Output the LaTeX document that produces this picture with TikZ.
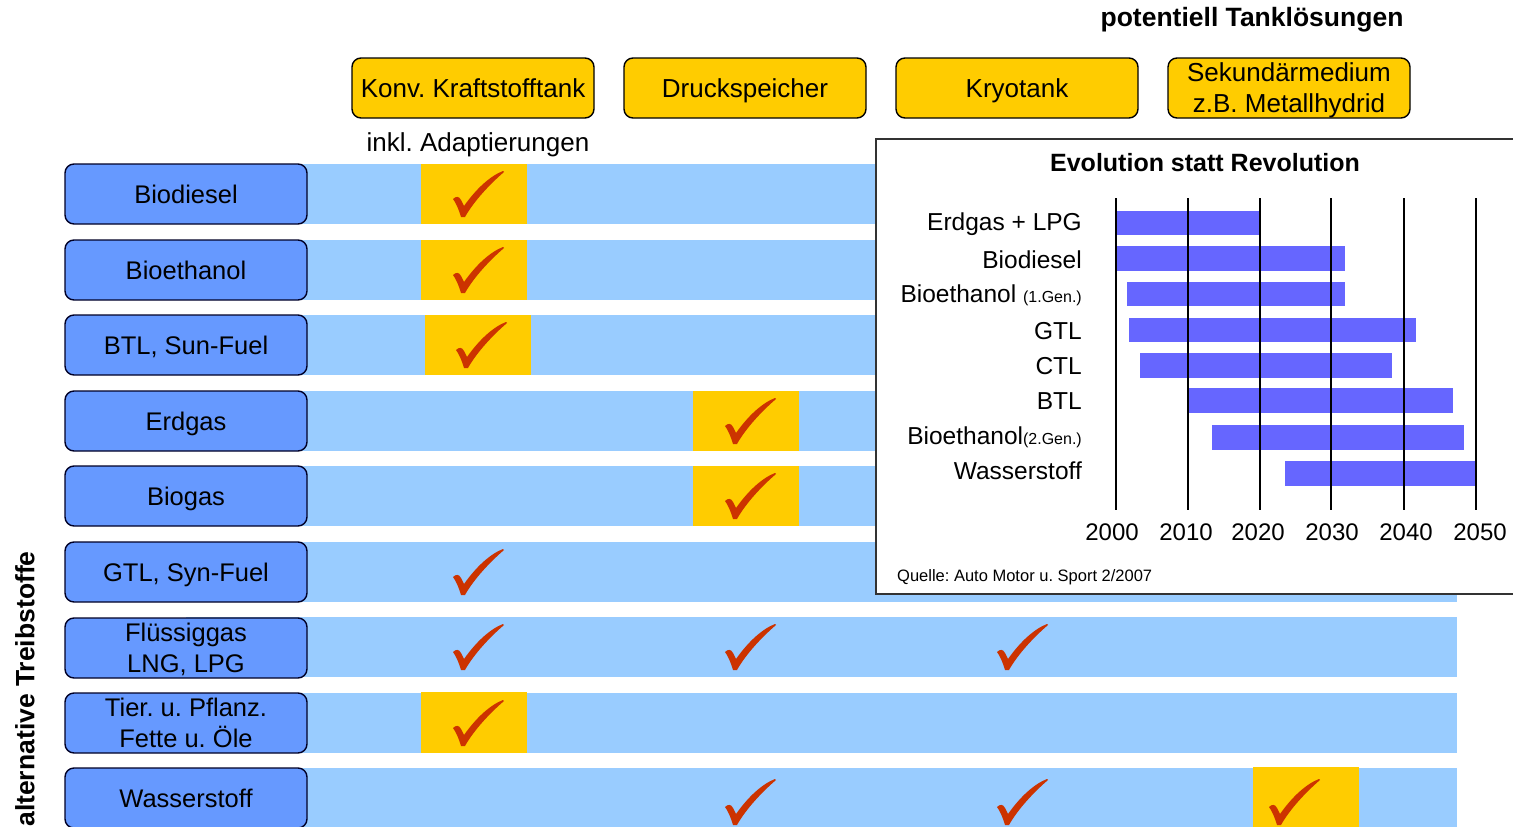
\documentclass[tikz,border=0pt]{standalone}
\usepackage{fontspec}
\setmainfont{Liberation Sans}
\frenchspacing
\definecolor{bandblue}{RGB}{153,204,255}
\definecolor{boxblue}{RGB}{102,153,255}
\definecolor{hiyellow}{RGB}{255,204,0}
\definecolor{tickred}{RGB}{204,51,0}
\definecolor{barblue}{RGB}{102,102,255}
\begin{document}
\begin{tikzpicture}[x=1pt,y=-1pt,
  rowbox/.style={draw=black!85!blue, line width=1.4pt, fill=boxblue, rounded corners=9pt,
    minimum width=242pt, minimum height=60pt, inner sep=0pt, align=center,
    font=\fontsize{25.5}{30.5}\selectfont},
  headbox/.style={draw=black, line width=1.4pt, fill=hiyellow, rounded corners=9pt,
    minimum width=242pt, minimum height=60pt, inner sep=0pt, align=center,
    font=\fontsize{26}{31}\selectfont},
  oneline/.style={text height=18pt, text depth=0pt},
  band/.style={fill=bandblue},
  cell/.style={fill=hiyellow},
  bar/.style={fill=barblue},
  grid/.style={line width=1.3pt},
  lab/.style={anchor=east, inner sep=0pt, font=\fontsize{24.5}{24.5}\selectfont},
  yr/.style={inner sep=0pt, font=\fontsize{24}{24}\selectfont},
  tick/.pic={\fill[tickred] (-9,-18) .. controls (-6,-21) and (-3,-21) .. (-1,-17)
      -- (2,-11) .. controls (14,-28) and (28,-41) .. (41,-46) -- (42,-45)
      .. controls (28,-33) and (12,-16) .. (3,0) -- (-1,0)
      .. controls (-3,-7) and (-6,-14) .. (-9,-18) -- cycle;}
]
\useasboundingbox (0,0) rectangle (1513,827);
\clip (0,0) rectangle (1513,827);

% bands
\foreach \t in {164,240,315,391,466,542,617,693,768}
  \fill[band] (186,\t) rectangle (1457,\t+60);

% highlighted cells
\fill[cell] (421,164) rectangle (527,224);
\fill[cell] (421,240) rectangle (527,300);
\fill[cell] (425,315) rectangle (531,375);
\fill[cell] (693,391) rectangle (799,451);
\fill[cell] (693,466) rectangle (799,526);
\fill[cell] (421,692) rectangle (527,753);
\fill[cell] (1253,767) rectangle (1359,830);

% checks
\pic at (462,217) {tick};
\pic at (462,293) {tick};
\pic at (465,368) {tick};
\pic at (734,444) {tick};
\pic at (734,519) {tick};
\pic at (462,595) {tick};
\pic at (462,670) {tick};
\pic at (734,670) {tick};
\pic at (1006,670) {tick};
\pic at (462,746) {tick};
\pic at (734,825) {tick};
\pic at (1006,825) {tick};
\pic at (1278,825) {tick};

% chart
\draw[fill=white, line width=1.4pt, draw=black!80] (876,139) rectangle (1530,594);
\node[font=\bfseries\fontsize{25}{25}\selectfont] (ctitle) at (1205,163) {Evolution statt Revolution};
\fill[bar] (1116,211) rectangle (1260,235);
\fill[bar] (1116,246) rectangle (1345,271);
\fill[bar] (1127,282) rectangle (1345,306);
\fill[bar] (1129,318) rectangle (1416,342);
\fill[bar] (1140,353) rectangle (1392,378);
\fill[bar] (1188,388) rectangle (1453,413);
\fill[bar] (1212,425) rectangle (1464,450);
\fill[bar] (1285,461) rectangle (1476,486);
\foreach \x in {1116,1188,1260,1331,1404,1476}
  \draw[grid] (\x,198) -- (\x,510);
\node[lab] (l1) at (1082,224) {Erdgas + LPG};
\node[lab] (l2) at (1082,260) {Biodiesel};
\node[lab] (l3) at (1082,295) {Bioethanol {\fontsize{16}{16}\selectfont(1.Gen.)}};
\node[lab] (l4) at (1082,331) {GTL};
\node[lab] (l5) at (1082,366) {CTL};
\node[lab] (l6) at (1082,401) {BTL};
\node[lab] (l7) at (1082,437) {Bioethanol{\fontsize{16}{16}\selectfont(2.Gen.)}};
\node[lab] (l8) at (1082,471) {Wasserstoff};
\node[yr] (y0) at (1112,532) {2000};
\node[yr] (y1) at (1186,532) {2010};
\node[yr] (y2) at (1258,532) {2020};
\node[yr] (y3) at (1332,532) {2030};
\node[yr] (y4) at (1406,532) {2040};
\node[yr] (y5) at (1480,532) {2050};
\node[anchor=west, inner sep=0pt, font=\fontsize{16.5}{17}\selectfont] (src) at (897,577) {Quelle: Auto Motor u. Sport 2/2007};

% row label boxes
\node[rowbox, oneline] (r1) at (186,194) {Biodiesel};
\node[rowbox, oneline] (r2) at (186,270) {Bioethanol};
\node[rowbox, oneline] (r3) at (186,345) {BTL, Sun-Fuel};
\node[rowbox, oneline] (r4) at (186,421) {Erdgas};
\node[rowbox, oneline] (r5) at (186,496) {Biogas};
\node[rowbox, oneline] (r6) at (186,572) {GTL, Syn-Fuel};
\node[rowbox, text depth=0pt] (r7) at (186,648) {Flüssiggas\\LNG, LPG};
\node[rowbox] (r8) at (186,723) {Tier. u. Pflanz.\\Fette u. Öle};
\node[rowbox, oneline] (r9) at (186,798) {Wasserstoff};

% column headers
\node[headbox, oneline] (h1) at (473,88) {Konv. Kraftstofftank};
\node[headbox, oneline] (h2) at (745,88) {Druckspeicher};
\node[headbox, oneline] (h3) at (1017,88) {Kryotank};
\node[headbox, text depth=0pt] (h4) at (1289,88) {Sekundärmedium\\z.B. Metallhydrid};
\node[oneline, inner sep=0pt, font=\fontsize{26}{26}\selectfont] (inkl) at (478,142) {inkl. Adaptierungen};
\node[oneline, inner sep=0pt, font=\bfseries\fontsize{26.5}{26.5}\selectfont] (pot) at (1252,18) {potentiell Tanklösungen};
\node[rotate=90, font=\bfseries\fontsize{26.5}{26.5}\selectfont] (alt) at (25,689) {alternative Treibstoffe};
\end{tikzpicture}
\end{document}
